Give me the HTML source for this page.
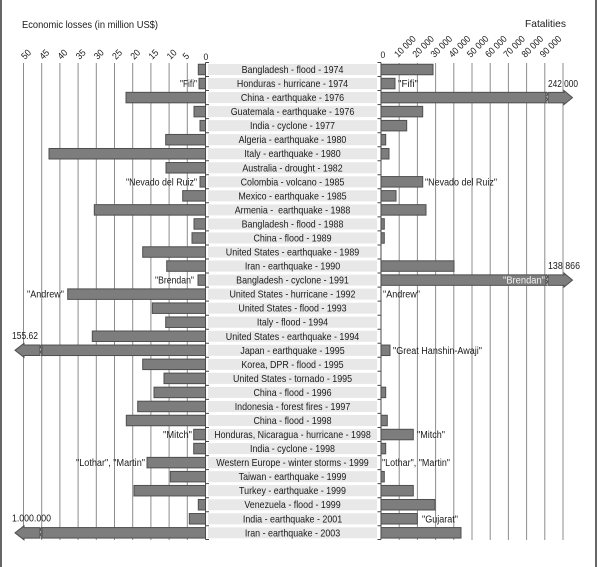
<!DOCTYPE html>
<html><head><meta charset="utf-8"><style>
html,body{margin:0;padding:0;background:#fff;}
svg{display:block;}
text{font-family:"Liberation Sans",Arial,sans-serif;fill:#1a1a1a;}
</style></head><body>
<svg width="600" height="567" viewBox="0 0 600 567" xmlns="http://www.w3.org/2000/svg">
<rect x="0" y="0" width="600" height="567" fill="#fff"/>
<line x1="1" y1="0" x2="1" y2="567" stroke="#333" stroke-width="1.5"/>
<line x1="596" y1="0" x2="596" y2="567" stroke="#333" stroke-width="1.5"/>

<!-- titles -->
<text x="22" y="28" font-size="10.5" textLength="136" lengthAdjust="spacingAndGlyphs">Economic losses (in million US$)</text>
<text x="525" y="27" font-size="10.5" textLength="41" lengthAdjust="spacingAndGlyphs">Fatalities</text>

<!-- gridlines left -->
<g stroke="#8c8c8c" stroke-width="1">
<line x1="187.3" y1="63" x2="187.3" y2="540"/>
<line x1="169.1" y1="63" x2="169.1" y2="540"/>
<line x1="150.9" y1="63" x2="150.9" y2="540"/>
<line x1="132.7" y1="63" x2="132.7" y2="540"/>
<line x1="114.5" y1="63" x2="114.5" y2="540"/>
<line x1="96.3" y1="63" x2="96.3" y2="540"/>
<line x1="78.1" y1="63" x2="78.1" y2="540"/>
<line x1="59.9" y1="63" x2="59.9" y2="540"/>
<line x1="41.7" y1="63" x2="41.7" y2="540"/>
<line x1="23.5" y1="63" x2="23.5" y2="540"/>
<!-- right -->
<line x1="399.2" y1="63" x2="399.2" y2="540"/>
<line x1="417.4" y1="63" x2="417.4" y2="540"/>
<line x1="435.6" y1="63" x2="435.6" y2="540"/>
<line x1="453.8" y1="63" x2="453.8" y2="540"/>
<line x1="472" y1="63" x2="472" y2="540"/>
<line x1="490.2" y1="63" x2="490.2" y2="540"/>
<line x1="508.4" y1="63" x2="508.4" y2="540"/>
<line x1="526.6" y1="63" x2="526.6" y2="540"/>
<line x1="544.8" y1="63" x2="544.8" y2="540"/>
<line x1="563" y1="63" x2="563" y2="540"/>
</g>

<!-- axis tick labels left -->
<g font-size="9.5">
<text transform="translate(25,60) rotate(-45) scale(0.9,1)">50</text>
<text transform="translate(43.2,60) rotate(-45) scale(0.9,1)">45</text>
<text transform="translate(61.4,60) rotate(-45) scale(0.9,1)">40</text>
<text transform="translate(79.6,60) rotate(-45) scale(0.9,1)">35</text>
<text transform="translate(97.8,60) rotate(-45) scale(0.9,1)">30</text>
<text transform="translate(116,60) rotate(-45) scale(0.9,1)">25</text>
<text transform="translate(134.2,60) rotate(-45) scale(0.9,1)">20</text>
<text transform="translate(152.4,60) rotate(-45) scale(0.9,1)">15</text>
<text transform="translate(170.6,60) rotate(-45) scale(0.9,1)">10</text>
<text transform="translate(186.5,60) rotate(-45) scale(0.9,1)">5</text>
<text transform="translate(203.5,60) scale(0.9,1)">0</text>
<!-- right -->
<text transform="translate(380.5,58) scale(0.9,1)">0</text>
<text transform="translate(398,58) rotate(-45) scale(0.9,1)">10 000</text>
<text transform="translate(416.2,58) rotate(-45) scale(0.9,1)">20 000</text>
<text transform="translate(434.4,58) rotate(-45) scale(0.9,1)">30 000</text>
<text transform="translate(452.6,58) rotate(-45) scale(0.9,1)">40 000</text>
<text transform="translate(470.8,58) rotate(-45) scale(0.9,1)">50 000</text>
<text transform="translate(489,58) rotate(-45) scale(0.9,1)">60 000</text>
<text transform="translate(507.2,58) rotate(-45) scale(0.9,1)">70 000</text>
<text transform="translate(525.4,58) rotate(-45) scale(0.9,1)">80 000</text>
<text transform="translate(543.6,58) rotate(-45) scale(0.9,1)">90 000</text>
</g>

<!-- label boxes -->
<g fill="#e8e8e8">
<rect x="208" y="64" width="169" height="11"/>
<rect x="208" y="78.04" width="169" height="11"/>
<rect x="208" y="92.08" width="169" height="11"/>
<rect x="208" y="106.12" width="169" height="11"/>
<rect x="208" y="120.16" width="169" height="11"/>
<rect x="208" y="134.2" width="169" height="11"/>
<rect x="208" y="148.24" width="169" height="11"/>
<rect x="208" y="162.28" width="169" height="11"/>
<rect x="208" y="176.32" width="169" height="11"/>
<rect x="208" y="190.36" width="169" height="11"/>
<rect x="208" y="204.4" width="169" height="11"/>
<rect x="208" y="218.44" width="169" height="11"/>
<rect x="208" y="232.48" width="169" height="11"/>
<rect x="208" y="246.52" width="169" height="11"/>
<rect x="208" y="260.56" width="169" height="11"/>
<rect x="208" y="274.6" width="169" height="11"/>
<rect x="208" y="288.64" width="169" height="11"/>
<rect x="208" y="302.68" width="169" height="11"/>
<rect x="208" y="316.72" width="169" height="11"/>
<rect x="208" y="330.76" width="169" height="11"/>
<rect x="208" y="344.8" width="169" height="11"/>
<rect x="208" y="358.84" width="169" height="11"/>
<rect x="208" y="372.88" width="169" height="11"/>
<rect x="208" y="386.92" width="169" height="11"/>
<rect x="208" y="400.96" width="169" height="11"/>
<rect x="208" y="415" width="169" height="11"/>
<rect x="208" y="429.04" width="169" height="11"/>
<rect x="208" y="443.08" width="169" height="11"/>
<rect x="208" y="457.12" width="169" height="11"/>
<rect x="208" y="471.16" width="169" height="11"/>
<rect x="208" y="485.2" width="169" height="11"/>
<rect x="208" y="499.24" width="169" height="11"/>
<rect x="208" y="513.28" width="169" height="11"/>
<rect x="208" y="527.32" width="169" height="11"/>
</g>

<!-- center labels -->
<g font-size="10" text-anchor="middle">
<text transform="translate(292.5,73) scale(0.89,1)">Bangladesh - flood - 1974</text>
<text transform="translate(292.5,87.04) scale(0.89,1)">Honduras - hurricane - 1974</text>
<text transform="translate(292.5,101.08) scale(0.89,1)">China - earthquake - 1976</text>
<text transform="translate(292.5,115.12) scale(0.89,1)">Guatemala - earthquake - 1976</text>
<text transform="translate(292.5,129.16) scale(0.89,1)">India - cyclone - 1977</text>
<text transform="translate(292.5,143.2) scale(0.89,1)">Algeria - earthquake - 1980</text>
<text transform="translate(292.5,157.24) scale(0.89,1)">Italy - earthquake - 1980</text>
<text transform="translate(292.5,171.28) scale(0.89,1)">Australia - drought - 1982</text>
<text transform="translate(292.5,185.32) scale(0.89,1)">Colombia - volcano - 1985</text>
<text transform="translate(292.5,199.36) scale(0.89,1)">Mexico - earthquake - 1985</text>
<text transform="translate(292.5,213.4) scale(0.89,1)">Armenia - &#160;earthquake - 1988</text>
<text transform="translate(292.5,227.44) scale(0.89,1)">Bangladesh - flood - 1988</text>
<text transform="translate(292.5,241.48) scale(0.89,1)">China - flood - 1989</text>
<text transform="translate(292.5,255.52) scale(0.89,1)">United States - earthquake - 1989</text>
<text transform="translate(292.5,269.56) scale(0.89,1)">Iran - earthquake - 1990</text>
<text transform="translate(292.5,283.6) scale(0.89,1)">Bangladesh - cyclone - 1991</text>
<text transform="translate(292.5,297.64) scale(0.89,1)">United States - hurricane - 1992</text>
<text transform="translate(292.5,311.68) scale(0.89,1)">United States - flood - 1993</text>
<text transform="translate(292.5,325.72) scale(0.89,1)">Italy - flood - 1994</text>
<text transform="translate(292.5,339.76) scale(0.89,1)">United States - earthquake - 1994</text>
<text transform="translate(292.5,353.8) scale(0.89,1)">Japan - earthquake - 1995</text>
<text transform="translate(292.5,367.84) scale(0.89,1)">Korea, DPR - flood - 1995</text>
<text transform="translate(292.5,381.88) scale(0.89,1)">United States - tornado - 1995</text>
<text transform="translate(292.5,395.92) scale(0.89,1)">China - flood - 1996</text>
<text transform="translate(292.5,409.96) scale(0.89,1)">Indonesia - forest fires - 1997</text>
<text transform="translate(292.5,424) scale(0.89,1)">China - flood - 1998</text>
<text transform="translate(292.5,438.04) scale(0.89,1)">Honduras, Nicaragua - hurricane - 1998</text>
<text transform="translate(292.5,452.08) scale(0.89,1)">India - cyclone - 1998</text>
<text transform="translate(292.5,466.12) scale(0.89,1)">Western Europe - winter storms - 1999</text>
<text transform="translate(292.5,480.16) scale(0.89,1)">Taiwan - earthquake - 1999</text>
<text transform="translate(292.5,494.2) scale(0.89,1)">Turkey - earthquake - 1999</text>
<text transform="translate(292.5,508.24) scale(0.89,1)">Venezuela - flood - 1999</text>
<text transform="translate(292.5,522.28) scale(0.89,1)">India - earthquake - 2001</text>
<text transform="translate(292.5,536.32) scale(0.89,1)">Iran - earthquake - 2003</text>
</g>

<!-- left bars -->
<g fill="#7d7d7d" stroke="#4f4f4f" stroke-width="1">
<rect x="198.3" y="64.25" width="7.2" height="10.5"/>
<rect x="199" y="78.29" width="6.5" height="10.5"/>
<rect x="126" y="92.33" width="79.5" height="10.5"/>
<rect x="194" y="106.37" width="11.5" height="10.5"/>
<rect x="200" y="120.41" width="5.5" height="10.5"/>
<rect x="165.7" y="134.45" width="39.8" height="10.5"/>
<rect x="49" y="148.49" width="156.5" height="10.5"/>
<rect x="166" y="162.53" width="39.5" height="10.5"/>
<rect x="200" y="176.57" width="5.5" height="10.5"/>
<rect x="182.7" y="190.61" width="22.8" height="10.5"/>
<rect x="94.3" y="204.65" width="111.2" height="10.5"/>
<rect x="194" y="218.69" width="11.5" height="10.5"/>
<rect x="192" y="232.73" width="13.5" height="10.5"/>
<rect x="142.7" y="246.77" width="62.8" height="10.5"/>
<rect x="166.7" y="260.81" width="38.8" height="10.5"/>
<rect x="198" y="274.85" width="7.5" height="10.5"/>
<rect x="67.7" y="288.89" width="137.8" height="10.5"/>
<rect x="152.3" y="302.93" width="53.2" height="10.5"/>
<rect x="165.7" y="316.97" width="39.8" height="10.5"/>
<rect x="92.3" y="331.01" width="113.2" height="10.5"/>
<rect x="42" y="345.05" width="163.5" height="10.5"/>
<rect x="142.7" y="359.09" width="62.8" height="10.5"/>
<rect x="164" y="373.13" width="41.5" height="10.5"/>
<rect x="154" y="387.17" width="51.5" height="10.5"/>
<rect x="137.7" y="401.21" width="67.8" height="10.5"/>
<rect x="126.3" y="415.25" width="79.2" height="10.5"/>
<rect x="193.7" y="429.29" width="11.8" height="10.5"/>
<rect x="193.7" y="443.33" width="11.8" height="10.5"/>
<rect x="147" y="457.37" width="58.5" height="10.5"/>
<rect x="170.3" y="471.41" width="35.2" height="10.5"/>
<rect x="134" y="485.45" width="71.5" height="10.5"/>
<rect x="198.3" y="499.49" width="7.2" height="10.5"/>
<rect x="189.3" y="513.53" width="16.2" height="10.5"/>
<rect x="42" y="527.57" width="163.5" height="10.5"/>
<!-- left arrows -->
<polygon points="40,345.05 24,345.05 24,343.3 15,350.3 24,357.3 24,355.55 40,355.55"/>
<polygon points="40,527.57 24,527.57 24,525.82 15,532.82 24,539.82 24,538.07 40,538.07"/>

<!-- right bars -->
<rect x="381" y="64.25" width="52" height="10.5"/>
<rect x="381" y="78.29" width="14" height="10.5"/>
<rect x="381" y="92.33" width="165" height="10.5"/>
<rect x="381" y="106.37" width="41.7" height="10.5"/>
<rect x="381" y="120.41" width="25.7" height="10.5"/>
<rect x="381" y="134.45" width="4.7" height="10.5"/>
<rect x="381" y="148.49" width="8" height="10.5"/>
<rect x="381" y="176.57" width="41.7" height="10.5"/>
<rect x="381" y="190.61" width="15" height="10.5"/>
<rect x="381" y="204.65" width="45" height="10.5"/>
<rect x="381" y="218.69" width="3.3" height="10.5"/>
<rect x="381" y="232.73" width="3.3" height="10.5"/>
<rect x="381" y="260.81" width="73" height="10.5"/>
<rect x="381" y="274.85" width="165" height="10.5"/>
<rect x="381" y="345.05" width="9" height="10.5"/>
<rect x="381" y="387.17" width="4.7" height="10.5"/>
<rect x="381" y="415.25" width="6.3" height="10.5"/>
<rect x="381" y="429.29" width="32.3" height="10.5"/>
<rect x="381" y="443.33" width="4.7" height="10.5"/>
<rect x="381" y="471.41" width="3.3" height="10.5"/>
<rect x="381" y="485.45" width="32.3" height="10.5"/>
<rect x="381" y="499.49" width="54" height="10.5"/>
<rect x="381" y="513.53" width="36.3" height="10.5"/>
<rect x="381" y="527.57" width="80" height="10.5"/>
<!-- right arrows -->
<polygon points="548,92.33 564,92.33 564,90.58 572.5,97.58 564,104.58 564,102.83 548,102.83"/>
<polygon points="548,274.85 564,274.85 564,273.1 572.5,280.1 564,287.1 564,285.35 548,285.35"/>
</g>

<!-- axis lines & ticks -->
<g stroke="#4a4a4a" stroke-width="1">
<line x1="205.5" y1="62.5" x2="205.5" y2="539.5"/>
<line x1="381" y1="62.5" x2="381" y2="539.5"/>
</g>
<g stroke="#4a4a4a" stroke-width="1">
<path d="M205.5 62.5h3.5M205.5 76.5h3.5M205.5 90.5h3.5M205.5 104.6h3.5M205.5 118.6h3.5M205.5 132.7h3.5M205.5 146.7h3.5M205.5 160.7h3.5M205.5 174.8h3.5M205.5 188.8h3.5M205.5 202.8h3.5M205.5 216.9h3.5M205.5 230.9h3.5M205.5 245h3.5M205.5 259h3.5M205.5 273h3.5M205.5 287.1h3.5M205.5 301.1h3.5M205.5 315.2h3.5M205.5 329.2h3.5M205.5 343.2h3.5M205.5 357.3h3.5M205.5 371.3h3.5M205.5 385.4h3.5M205.5 399.4h3.5M205.5 413.4h3.5M205.5 427.5h3.5M205.5 441.5h3.5M205.5 455.6h3.5M205.5 469.6h3.5M205.5 483.6h3.5M205.5 497.7h3.5M205.5 511.7h3.5M205.5 525.8h3.5M205.5 539.5h3.5"/>
<path d="M381 62.5h-3.5M381 76.5h-3.5M381 90.5h-3.5M381 104.6h-3.5M381 118.6h-3.5M381 132.7h-3.5M381 146.7h-3.5M381 160.7h-3.5M381 174.8h-3.5M381 188.8h-3.5M381 202.8h-3.5M381 216.9h-3.5M381 230.9h-3.5M381 245h-3.5M381 259h-3.5M381 273h-3.5M381 287.1h-3.5M381 301.1h-3.5M381 315.2h-3.5M381 329.2h-3.5M381 343.2h-3.5M381 357.3h-3.5M381 371.3h-3.5M381 385.4h-3.5M381 399.4h-3.5M381 413.4h-3.5M381 427.5h-3.5M381 441.5h-3.5M381 455.6h-3.5M381 469.6h-3.5M381 483.6h-3.5M381 497.7h-3.5M381 511.7h-3.5M381 525.8h-3.5M381 539.5h-3.5"/>
</g>

<!-- break marks -->
<g fill="none" stroke="#4f4f4f" stroke-width="0.8">
<polyline points="41.5,344.5 40.5,347 42,349.5 40.5,352 42,354.5 41,356"/>
<polyline points="41.5,527 40.5,529.5 42,532 40.5,534.5 42,537 41,538.5"/>
<polyline points="546.5,91.8 547.5,94.3 546,96.8 547.5,99.3 546,101.8 547,103.3"/>
<polyline points="546.5,274.3 547.5,276.8 546,279.3 547.5,281.8 546,284.3 547,285.8"/>
</g>

<!-- annotations -->
<g font-size="10">
<text x="180" y="87" textLength="17" lengthAdjust="spacingAndGlyphs">"Fifi"</text>
<text x="126" y="185.3" textLength="71" lengthAdjust="spacingAndGlyphs">"Nevado del Ruiz"</text>
<text x="155" y="283.6" textLength="39" lengthAdjust="spacingAndGlyphs">"Brendan"</text>
<text x="27" y="297.6" textLength="37" lengthAdjust="spacingAndGlyphs">"Andrew"</text>
<text x="163" y="438" textLength="29" lengthAdjust="spacingAndGlyphs">"Mitch"</text>
<text x="76" y="466.1" textLength="69" lengthAdjust="spacingAndGlyphs">"Lothar", "Martin"</text>

<text x="398" y="87" textLength="20" lengthAdjust="spacingAndGlyphs">"Fifi"</text>
<text x="425" y="185.3" textLength="72" lengthAdjust="spacingAndGlyphs">"Nevado del Ruiz"</text>
<text x="383" y="297.6" textLength="37" lengthAdjust="spacingAndGlyphs">"Andrew"</text>
<text x="393" y="353.8" textLength="89" lengthAdjust="spacingAndGlyphs">"Great Hanshin-Awaji"</text>
<text x="417" y="438" textLength="28" lengthAdjust="spacingAndGlyphs">"Mitch"</text>
<text x="382" y="466.1" textLength="68" lengthAdjust="spacingAndGlyphs">"Lothar", "Martin"</text>
<text x="422" y="522.3" textLength="36" lengthAdjust="spacingAndGlyphs">"Gujarat"</text>
<text x="503" y="283.6" textLength="42" lengthAdjust="spacingAndGlyphs" style="fill:#f2f2f2">"Brendan"</text>

<text x="548" y="87" textLength="30" lengthAdjust="spacingAndGlyphs">242 000</text>
<text x="548" y="269" textLength="32" lengthAdjust="spacingAndGlyphs">138 866</text>
<text x="12" y="339" textLength="26" lengthAdjust="spacingAndGlyphs">155.62</text>
<text x="12" y="521.5" textLength="39" lengthAdjust="spacingAndGlyphs">1.000.000</text>
</g>
</svg>
</body></html>
